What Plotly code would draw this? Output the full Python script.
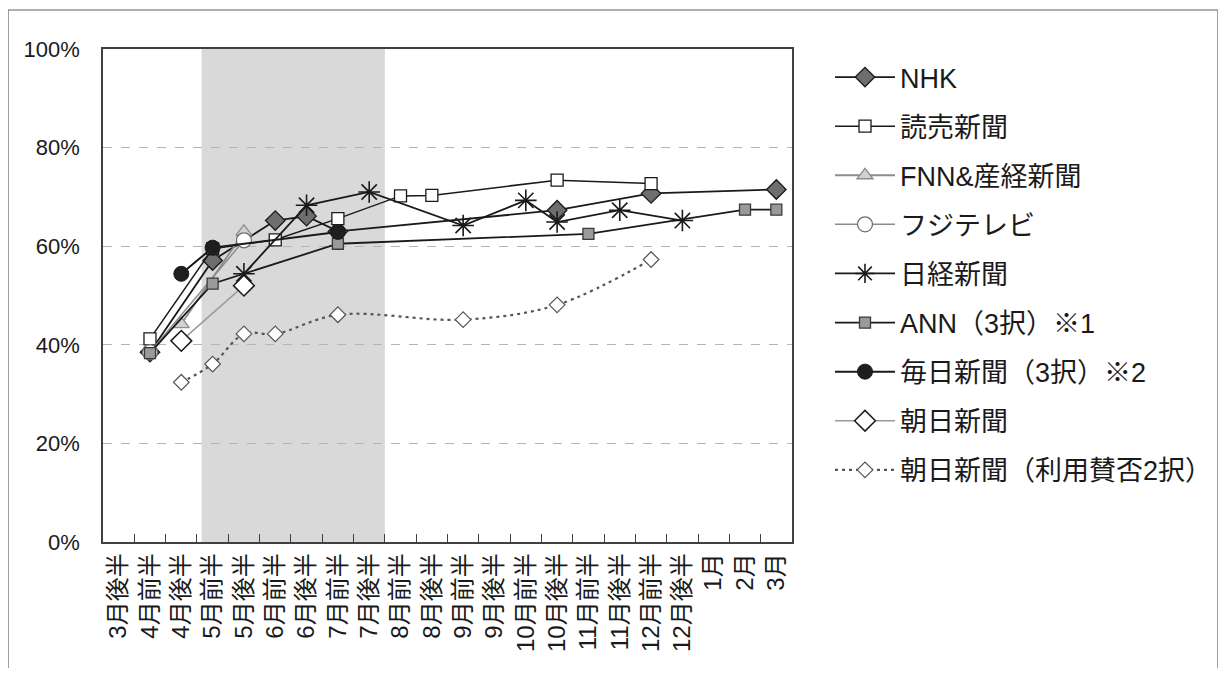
import plotly.graph_objects as go

categories = ["3月後半", "4月前半", "4月後半", "5月前半", "5月後半", "6月前半", "6月後半",
              "7月前半", "7月後半", "8月前半", "8月後半", "9月前半", "9月後半", "10月前半",
              "10月後半", "11月前半", "11月後半", "12月前半", "12月後半", "1月", "2月", "3月"]
N = None
nhk      = [N, 38.5, N, 57.1, N, 65.2, 66.1, 63.0, N, N, N, N, N, N, 67.3, N, N, 70.7, N, N, N, 71.5]
yomiuri  = [N, 41.2, N, 59.5, N, 61.3, N, 65.6, N, 70.2, 70.3, N, N, N, 73.4, N, N, 72.7, N, N, N, N]
fnn      = [N, N, 44.2, N, 62.9, N, N, N, N, N, N, N, N, N, N, N, N, N, N, N, N, N]
fuji     = [N, 38.5, N, N, 61.2, N, N, N, N, N, N, N, N, N, N, N, N, N, N, N, N, N]
nikkei   = [N, N, N, N, 54.4, N, 68.3, N, 71.0, N, N, 64.2, N, 69.3, 64.9, N, 67.3, N, 65.2, N, N, N]
ann      = [N, 38.3, N, 52.4, N, N, N, 60.5, N, N, N, N, N, N, N, 62.5, N, N, N, N, 67.4, 67.4]
mainichi = [N, N, 54.4, 59.7, N, N, N, 62.9, N, N, N, N, N, N, N, N, N, N, N, N, N, N]
asahi    = [N, N, 40.8, N, 52.0, N, N, N, N, N, N, N, N, N, N, N, N, N, N, N, N, N]
asahi2   = [N, N, 32.4, 36.1, 42.2, 42.2, N, 46.1, N, N, N, 45.1, N, N, 48.1, N, N, 57.3, N, N, N, N]

names = ["NHK", "読売新聞", "FNN&産経新聞", "フジテレビ", "日経新聞", "ANN（3択）※1",
         "毎日新聞（3択）※2", "朝日新聞", "朝日新聞（利用賛否2択）"]
ytick_vals = [0, 20, 40, 60, 80, 100]
ytick_text = ["0%", "20%", "40%", "60%", "80%", "100%"]
shade_range = [2.65, 8.5]

FONT = "Liberation Sans, Arial, Noto Sans CJK JP, sans-serif"

# layout geometry (pixels inside the figure div)
W, H = 1210, 660
PL, PT, PW, PH = 95, 41, 689, 492.7
PB = PT + PH


def px_x(p):
    return (p - PL) / PW


def px_y(p):
    return (PB - p) / PH


styles = [
    dict(data=nhk, line=dict(color="#1a1a1a", width=1.8),
         marker=dict(symbol="diamond", size=15, color="#6e6e6e", line=dict(color="#1a1a1a", width=1.3))),
    dict(data=yomiuri, line=dict(color="#1a1a1a", width=1.5),
         marker=dict(symbol="square", size=12, color="white", line=dict(color="#1a1a1a", width=1.3))),
    dict(data=fnn, line=dict(color="#8c8c8c", width=1.8),
         marker=dict(symbol="triangle-up", size=14, color="#d2d2d2", line=dict(color="#8c8c8c", width=1.3))),
    dict(data=fuji, line=dict(color="#8c8c8c", width=1.5),
         marker=dict(symbol="circle", size=15, color="white", line=dict(color="#6e6e6e", width=1.3))),
    dict(data=nikkei, line=dict(color="#1a1a1a", width=1.8),
         marker=dict(symbol="asterisk-open", size=18, color="#1a1a1a", line=dict(color="#1a1a1a", width=1.6))),
    dict(data=ann, line=dict(color="#1a1a1a", width=1.8),
         marker=dict(symbol="square", size=11, color="#9a9a9a", line=dict(color="#3a3a3a", width=1.3))),
    dict(data=mainichi, line=dict(color="#1a1a1a", width=2),
         marker=dict(symbol="circle", size=15, color="#1e1e1e", line=dict(color="#1a1a1a", width=1))),
    dict(data=asahi, line=dict(color="#9a9a9a", width=1.5),
         marker=dict(symbol="diamond", size=16, color="white", line=dict(color="#1a1a1a", width=1.5))),
    dict(data=asahi2, line=dict(color="#555555", width=2.2, dash="3px,4px", shape="spline"),
         marker=dict(symbol="diamond", size=12, color="white", line=dict(color="#555555", width=1.2))),
]

fig = go.Figure()
for i, (nm, st) in enumerate(zip(names, styles)):
    fig.add_trace(go.Scatter(
        x=categories, y=st["data"], name=nm, mode="lines+markers",
        connectgaps=True, line=st["line"], marker=st["marker"],
        legendgroup=f"g{i}", hoverinfo="skip"))

fig.add_shape(type="rect", xref="x", yref="paper", x0=shade_range[0], x1=shade_range[1],
              y0=0, y1=1, fillcolor="#d9d9d9", line=dict(width=0), layer="below")
# outer frame of the picture
fig.add_shape(type="rect", xref="paper", yref="paper",
              x0=px_x(0), x1=px_x(1210), y0=px_y(720), y1=px_y(2),
              line=dict(color="#606060", width=1.2), fillcolor="rgba(0,0,0,0)", layer="below")

fig.update_layout(
    width=W, height=H,
    margin=dict(l=PL, r=W - PL - PW, t=PT, b=H - PB, autoexpand=False),
    paper_bgcolor="white", plot_bgcolor="rgba(0,0,0,0)",
    font=dict(family=FONT, color="#1a1a1a"),
    showlegend=True,
    legend=dict(x=px_x(822), xanchor="left", y=px_y(45), yanchor="top",
                font=dict(size=27, family=FONT, color="#1a1a1a"),
                traceorder="grouped", tracegroupgap=11, itemwidth=60,
                bgcolor="rgba(0,0,0,0)"),
    xaxis=dict(type="category", categoryorder="array", categoryarray=categories,
               range=[-0.5, len(categories) - 0.5],
               tickson="boundaries", ticks="inside", ticklen=8, tickcolor="#404040",
               tickangle=-90, tickfont=dict(size=24, family=FONT, color="#1a1a1a"),
               showgrid=False, showline=True, linecolor="#404040", linewidth=1.5, mirror=True,
               zeroline=False),
    yaxis=dict(range=[0, 100], tickvals=ytick_vals, ticktext=ytick_text,
               tickfont=dict(size=22, family=FONT, color="#1a1a1a"),
               ticks="", ticklabelstandoff=17,
               showgrid=True, gridcolor="#b5b5b5", griddash="dash", gridwidth=1,
               showline=True, linecolor="#404040", linewidth=1.5, mirror=True, zeroline=False),
)

fig.write_html("out.html")
